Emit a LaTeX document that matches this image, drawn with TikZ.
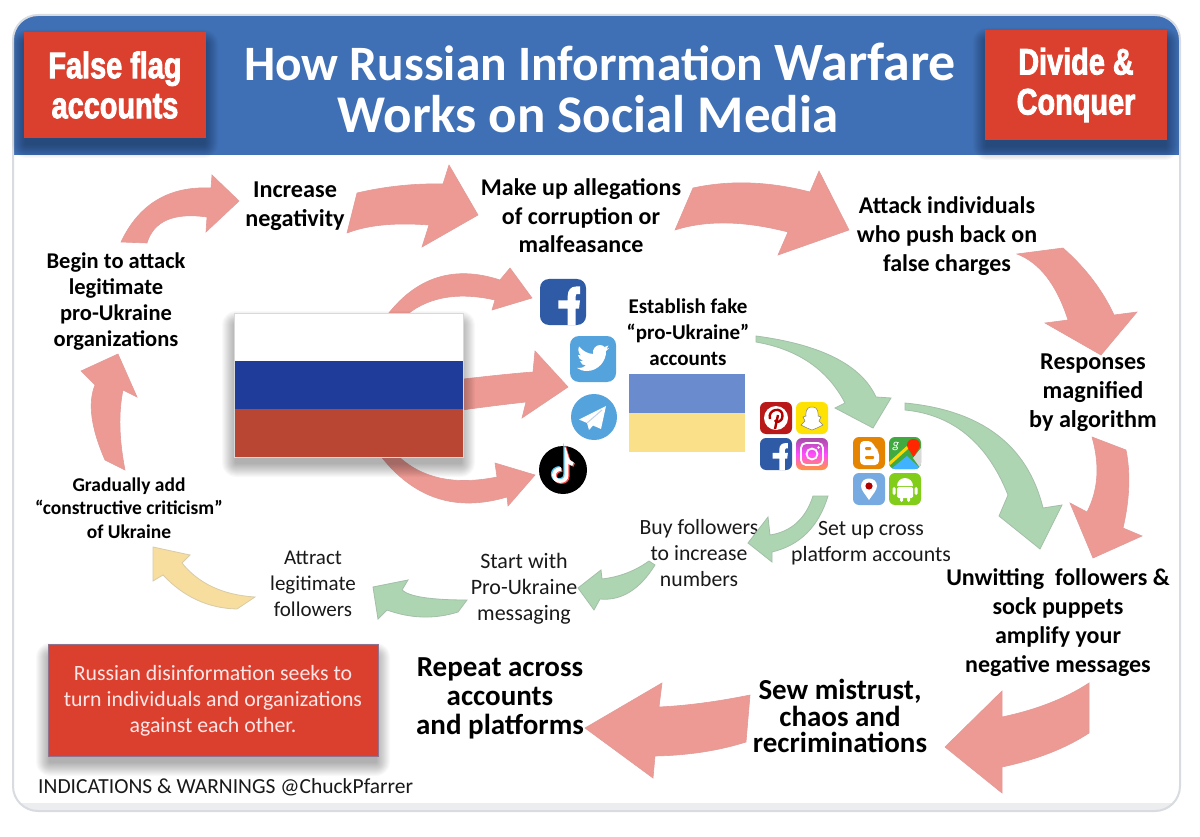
\documentclass[tikz,border=0pt]{standalone}
\usepackage{fontspec}
\setmainfont{Carlito}
\newfontfamily\impactish[FakeStretch=0.78,FakeBold=2.2]{Liberation Sans Bold}
\usetikzlibrary{positioning,calc}

\definecolor{headblue}{HTML}{3F6FB4}
\definecolor{boxred}{HTML}{DB402E}
\definecolor{pinkfill}{HTML}{EC9A93}
\definecolor{pinkedge}{HTML}{E39A98}
\definecolor{greenfill}{HTML}{AED5B1}
\definecolor{greenedge}{HTML}{A3BFA9}
\definecolor{yellowfill}{HTML}{F7DE9E}
\definecolor{yellowedge}{HTML}{D8CBA8}
\definecolor{panelgrey}{HTML}{D8DBDF}
\definecolor{ukblue}{HTML}{6A8CCF}
\definecolor{ukyellow}{HTML}{FAE088}
\definecolor{rublue}{HTML}{1F3C9A}
\definecolor{rured}{HTML}{B84632}
\definecolor{fbblue}{HTML}{2F5BA6}
\definecolor{twblue}{HTML}{54A3DD}

\tikzset{
	blabel/.style n args={2}{align=center,inner sep=0pt,text=black,font=\fontsize{#1}{#2}\selectfont\bfseries},
	rlabel/.style n args={2}{align=center,inner sep=0pt,text=black!90,font=\fontsize{#1}{#2}\selectfont},
	titleline/.style={inner sep=0pt,anchor=base,text=white,font=\fontsize{#1}{53}\selectfont\bfseries},
	redbox/.style={fill=boxred,inner sep=0pt,align=center,text=white},
	band/.style={inner sep=0pt,outer sep=0pt,minimum width=#1},
	tile/.style={inner sep=0pt,outer sep=0pt,minimum size=32pt,rounded corners=6pt},
	redarrow/.style={fill=pinkfill,draw=pinkedge,line width=0.6pt},
	greenarrow/.style={fill=greenfill,draw=greenedge,line width=0.8pt},
	yellowarrow/.style={fill=yellowfill,draw=yellowedge,line width=0.8pt},
	fglyph/.pic={
		\fill[white] (4.7,23) -- (4.7,6.7) -- (-4.7,6.7) -- (-4.7,-1.7) -- (4.7,-1.7) -- (4.7,-6)
			.. controls (4.7,-12) and (8,-15.5) .. (13,-15.5) -- (17,-15.5) -- (17,-8) -- (14,-8)
			.. controls (12.7,-8) and (12.7,-7) .. (12.7,-5.5) -- (12.7,-1.7) -- (17,-1.7)
			-- (16,6.7) -- (12.7,6.7) -- (12.7,23) -- cycle;
	},
	bird/.pic={
		\fill[white] (16,-11) -- (13,-8) .. controls (13.5,2) and (5,12) .. (-6,12)
			.. controls (-10,12) and (-13,11) .. (-16,9) .. controls (-12,9) and (-9,8.5) .. (-7,6.5)
			.. controls (-10,6.5) and (-12,5) .. (-13,2) -- (-10,2) .. controls (-13,1) and (-15,-2) .. (-15,-4)
			-- (-12,-3.5) .. controls (-15,-6) and (-15,-10) .. (-14,-12.5)
			.. controls (-10,-8) and (-6,-5.5) .. (0,-5) .. controls (-1,-10) and (3,-14) .. (7,-14)
			.. controls (9,-14) and (10.5,-13) .. (11.5,-12) -- (15.5,-13.5) -- (13.5,-10) -- cycle;
	},
	plane/.pic={
		\fill[white] (12,-11) -- (-15,2.5) -- (-7,6) -- (-5,13) -- (-1,8.5) -- (7,12) -- cycle;
		\draw[ukblue!40,line width=1pt] (-7,6) -- (8,-7);
	},
	note/.pic={
		\draw[pic actions,line width=3.8pt] (10,-6) .. controls (6.5,-7) and (4,-9.5) .. (3.5,-13) -- (3.5,5)
			.. controls (3.5,9) and (1,11) .. (-3,11) .. controls (-6.5,11) and (-9,8.5) .. (-9,5)
			.. controls (-9,1.5) and (-6,-1) .. (-2,-1);
	},
}

%% soft shadow under a box: left, top, right, bottom
\newcommand{\softshadow}[4]{%
	\foreach \g in {1,...,14}
		\fill[black,opacity=0.022,rounded corners=\g pt] (#1-\g+2,#2-\g+12) rectangle (#3+\g-2,#4+\g+6);
}
%% block arrow: style, name, bend, neck, barb, barb, neck, bend
\newcommand{\sweeparrow}[8]{%
	\filldraw[#1] (#2t) .. controls ($(#2t)!.667!(#3)$) and ($(#4)!.667!(#3)$) .. (#4) -- (#5) -- (#2h) -- (#6) -- (#7)
		.. controls ($(#7)!.667!(#8)$) and ($(#2u)!.667!(#8)$) .. (#2u) -- cycle;
}

\begin{document}
\begin{tikzpicture}[x=1pt,y=-1pt]
	\path[use as bounding box,fill=white] (0,0) rectangle (1200,837);
	%% panel and header
	\begin{scope}
		\clip[rounded corners=25pt] (13,15) rectangle (1180,811);
		\fill[headblue] (13,15) rectangle (1180,155);
		\fill[panelgrey!50] (13,803) rectangle (1180,811);
	\end{scope}
	\draw[panelgrey,line width=2pt,rounded corners=25pt] (13,15) rectangle (1180,811);
	\softshadow{24}{32}{206}{138}
	\softshadow{985}{30}{1167}{140}
	\node[redbox,minimum width=182pt,minimum height=106pt,font=\impactish\fontsize{37}{40}\selectfont] (ff) at (115,85) {False flag\\accounts};
	\node[redbox,minimum width=182pt,minimum height=110pt,font=\impactish\fontsize{37}{40}\selectfont] (dc) at (1076,85) {Divide \&\\Conquer};
	\node[titleline=49.5] (title) at (600,81) {How Russian Information {\fontsize{54}{53}\selectfont Warfare}};
	\node[titleline=53] (titleb) at (588,133) {Works on Social Media};

	%% outer loop labels
	\node[blabel={24.2}{28.5}] (neg) at (295,206) {Increase\\negativity};
	\node[blabel={24}{28.5}] (make) at (581,216) {Make up allegations\\of corruption or\\malfeasance};
	\node[blabel={24}{29}] (att) at (947,236) {Attack individuals\\who push back on\\false charges};
	\node[blabel={24.2}{29}] (resp) at (1093,393) {Responses\\magnified\\by algorithm};
	\node[blabel={24}{29}] (unw) at (1058,623) {Unwitting~ followers \&\\sock puppets\\amplify your\\negative messages};
	\node[blabel={29}{26.5}] (sew) at (840,716) {Sew mistrust,\\chaos and\\recriminations};
	\node[blabel={29}{29}] (rep) at (500,698) {Repeat across\\accounts\\and platforms};
	\node[blabel={22.5}{26}] (begin) at (116,302) {Begin to attack\\legitimate\\pro-Ukraine\\organizations};
	\node[blabel={19.5}{23.5}] (grad) at (129,508) {Gradually add\\“constructive criticism”\\of Ukraine};
	%% inner labels
	\node[blabel={21}{26}] (est) at (688,332) {Establish fake\\“pro-Ukraine”\\accounts};
	\node[rlabel={21.7}{26}] (buy) at (699,553) {Buy followers\\to increase\\numbers};
	\node[rlabel={21.8}{26}] (setup) at (871,543) {Set up cross\\platform accounts};
	\node[rlabel={22}{26}] (start) at (524,589) {Start with\\Pro-Ukraine\\messaging};
	\node[rlabel={21}{26}] (attr) at (313,584) {Attract\\legitimate\\followers};

	%% arrow ends: t and u are the tail corners, h the tip
	\coordinate (a1t) at (121,242);
	\coordinate (a1u) at (147,243);
	\coordinate (a1h) at (239,201);
	\coordinate (a2t) at (357,193);
	\coordinate (a2u) at (347,233);
	\coordinate (a2h) at (478,215);
	\coordinate (a3t) at (693,188);
	\coordinate (a3u) at (675,230);
	\coordinate (a3h) at (849,230);
	\coordinate (a4t) at (1063,248);
	\coordinate (a4u) at (1017,254);
	\coordinate (a4h) at (1101,355);
	\coordinate (a5t) at (1126,450);
	\coordinate (a5u) at (1092,437);
	\coordinate (a5h) at (1093,558);
	\coordinate (a6t) at (1089,683);
	\coordinate (a6u) at (1089,733);
	\coordinate (a6h) at (945,747);
	\coordinate (a7t) at (750,695);
	\coordinate (a7u) at (746,742);
	\coordinate (a7h) at (585,728);
	\coordinate (a8t) at (105,460);
	\coordinate (a8u) at (125,470);
	\coordinate (a8h) at (118,354);
	\coordinate (b1t) at (385,318);
	\coordinate (b1u) at (403,318);
	\coordinate (b1h) at (532,298);
	\coordinate (b2t) at (455,380);
	\coordinate (b2u) at (455,411);
	\coordinate (b2h) at (568,387);
	\coordinate (b3t) at (397,455);
	\coordinate (b3u) at (380,455);
	\coordinate (b3h) at (535,475);
	\coordinate (g1t) at (756,336);
	\coordinate (g1u) at (756,342);
	\coordinate (g1h) at (873,428);
	\coordinate (g2t) at (905,403);
	\coordinate (g2u) at (905,410);
	\coordinate (g2h) at (1040,549);
	\coordinate (g3t) at (813,496);
	\coordinate (g3u) at (828,496);
	\coordinate (g3h) at (748,543);
	\coordinate (g4t) at (649,561);
	\coordinate (g4u) at (655,565);
	\coordinate (g4h) at (578,588);
	\coordinate (g5t) at (467,600);
	\coordinate (g5u) at (458,612);
	\coordinate (g5h) at (373,587);
	\coordinate (y1t) at (255,597);
	\coordinate (y1u) at (237,609);
	\coordinate (y1h) at (153,547);

	%% pink loop
	\sweeparrow{redarrow}{a1}{148,185}{211,188}{212,175}{206,232}{207,217}{157,210}
	\sweeparrow{redarrow}{a2}{400,183}{443,184}{449,165}{422,247}{429,225}{378,221}
	\sweeparrow{redarrow}{a3}{748,176}{810,192}{819,171}{778,255}{788,232}{722,215}
	\sweeparrow{redarrow}{a4}{1097,278}{1114,315}{1137,312}{1045,323}{1068,320}{1051,267}
	\sweeparrow{redarrow}{a5}{1133,485}{1123,528}{1142,536}{1070,503}{1087,512}{1104,479}
	\sweeparrow{redarrow}{a6}{1054,706}{1002,717}{1002,691}{1002,793}{1002,767}{1054,756}
	\sweeparrow{redarrow}{a7}{701,705}{659,707}{662,683}{653,778}{655,756}{705,755}
	\sweeparrow{redarrow}{a8}{84,412}{95,385}{81,371}{137,397}{123,390}{116,424}
	%% out of the Russian flag
	\sweeparrow{redarrow}{b1}{430,257}{500,280}{510,268}{492,310}{495,300}{437,287}
	\sweeparrow{redarrow}{b2}{506,374}{533,372}{535,351}{522,418}{526,402}{490,406}
	\sweeparrow{redarrow}{b3}{433,490}{497,477}{495,463}{508,506}{507,497}{430,520}
	%% green chain
	\sweeparrow{greenarrow}{g1}{854,349}{876,397}{891,398}{835,408}{845,403}{819,353}
	\sweeparrow{greenarrow}{g2}{1020,414}{1043,508}{1062,505}{999,516}{1008,495}{977,417}
	\sweeparrow{greenarrow}{g3}{802,530}{770,535}{768,517}{772,562}{772,552}{814,542}
	\sweeparrow{greenarrow}{g4}{628,576}{602,579}{601,570}{594,610}{600,599}{632,602}
	\sweeparrow{greenarrow}{g5}{413,600}{402,590}{408,580}{378,619}{387,610}{423,623}
	\sweeparrow{yellowarrow}{y1}{207,594}{182,563}{190,555}{153,581}{163,575}{194,608}

	%% Russian flag
	\softshadow{234}{313}{463}{457}
	\node[band=229pt,minimum height=48pt,fill=white] (ruw) at (348.5,337) {};
	\node[band=229pt,minimum height=48pt,fill=rublue,below=0pt of ruw] (rub) {};
	\node[band=229pt,minimum height=48pt,fill=rured,below=0pt of rub] (rur) {};
	\draw[black!15,line width=0.8pt] (ruw.north west) rectangle (rur.south east);
	%% Ukrainian flag
	\node[band=116pt,minimum height=39pt,fill=ukblue] (uab) at (687,393.5) {};
	\node[band=116pt,minimum height=39pt,fill=ukyellow,below=0pt of uab] (uay) {};

	%% large icons
	\node[tile,minimum size=46pt,rounded corners=9pt,fill=fbblue] (fb) at (563,302) {};
	\pic at (fb) {fglyph};
	\node[tile,minimum size=46pt,rounded corners=9pt,fill=twblue] (tw) at (593,359) {};
	\pic at (tw) {bird};
	\node[circle,inner sep=0pt,minimum size=46pt,fill=twblue] (tg) at (594,417) {};
	\pic at (tg) {plane};
	\node[circle,inner sep=0pt,minimum size=48pt,fill=black] (tt) at (563,470) {};
	\pic[draw=cyan!70,xshift=-1.2pt,yshift=1pt] at (tt) {note};
	\pic[draw=red!70,xshift=1.2pt,yshift=-1pt] at (tt) {note};
	\pic[draw=white] at (tt) {note};

	%% first tile group
	\node[tile,fill=red!70!black!90] (pin) at (776,418) {};
	\node[tile,fill=yellow!85!orange,right=4pt of pin] (snap) {};
	\node[tile,fill=fbblue,below=4pt of pin] (fbs) {};
	\node[tile,top color=violet!70,bottom color=orange!80,middle color=magenta!70,below=4pt of snap] (ig) {};
	\fill[white] (pin) circle (12pt);
	\draw[red!70!black,line width=2.4pt] ($(pin)+(-1,11)$) -- ($(pin)+(2,-3)$);
	\draw[red!70!black,line width=2.4pt] ($(pin)+(-6,1)$) .. controls ($(pin)+(-9,-9)$) and ($(pin)+(7,-12)$) .. ($(pin)+(6.5,-2)$) .. controls ($(pin)+(6,5)$) and ($(pin)+(-1,5)$) .. ($(pin)+(-1,2)$);
	\fill[white,draw=black!50,line width=0.5pt] ($(snap)+(0,-11)$) .. controls ($(snap)+(7,-11)$) and ($(snap)+(6,-4)$) .. ($(snap)+(6,-2)$) -- ($(snap)+(9,-1)$) -- ($(snap)+(7,3)$) -- ($(snap)+(11,7)$) -- ($(snap)+(5,10)$) -- ($(snap)+(0,12)$) -- ($(snap)+(-5,10)$) -- ($(snap)+(-11,7)$) -- ($(snap)+(-7,3)$) -- ($(snap)+(-9,-1)$) -- ($(snap)+(-6,-2)$) .. controls ($(snap)+(-6,-4)$) and ($(snap)+(-7,-11)$) .. ($(snap)+(0,-11)$);
	\pic[scale=0.7] at (fbs) {fglyph};
	\draw[white,line width=1.8pt,rounded corners=5pt] ($(ig)+(-11,-11)$) rectangle ($(ig)+(11,11)$);
	\draw[white,line width=1.8pt] (ig) circle (5.5pt);
	\fill[white] ($(ig)+(6.5,-6.5)$) circle (1.3pt);

	%% second tile group
	\node[tile,fill=orange!85!yellow!90!black] (blg) at (869,453) {};
	\node[tile,fill=green!55!black!75,right=4pt of blg] (maps) {};
	\node[tile,fill=cyan!60!blue!55,below=4pt of blg] (peri) {};
	\node[tile,fill=green!60!black!55!yellow!90,below=4pt of maps] (droid) {};
	\fill[white,rounded corners=4pt] ($(blg)+(-9,-12)$) -- ($(blg)+(3,-12)$) -- ($(blg)+(6,-5)$) -- ($(blg)+(10,-2)$) -- ($(blg)+(10,12)$) -- ($(blg)+(-9,12)$) -- cycle;
	\fill[orange!85!yellow!90!black,rounded corners=1pt] ($(blg)+(-4,-6)$) rectangle ($(blg)+(2,-3)$);
	\fill[orange!85!yellow!90!black,rounded corners=1pt] ($(blg)+(-4,3)$) rectangle ($(blg)+(5,6)$);
	\begin{scope}
		\clip[rounded corners=6pt] ($(maps)+(-16,-16)$) rectangle ($(maps)+(16,16)$);
		\fill[blue!40!cyan!75] ($(maps)+(2,3)$) -- ($(maps)+(16,16)$) -- ($(maps)+(-14,16)$) -- cycle;
		\fill[black!15] ($(maps)+(8,5)$) -- ($(maps)+(16,-5)$) -- ($(maps)+(16,16)$) -- cycle;
		\draw[yellow!75!orange,line width=3pt] ($(maps)+(-16,11)$) -- ($(maps)+(3,-6)$);
	\end{scope}
	\fill[red!70!orange] ($(maps)+(8.5,4)$) .. controls ($(maps)+(5,-2)$) and ($(maps)+(2,-5)$) .. ($(maps)+(2,-8)$) .. controls ($(maps)+(2,-16)$) and ($(maps)+(15,-16)$) .. ($(maps)+(15,-8)$) .. controls ($(maps)+(15,-5)$) and ($(maps)+(12,-2)$) .. ($(maps)+(8.5,4)$);
	\node[inner sep=0pt,text=white,font=\fontsize{13}{13}\selectfont\itshape] (mapg) at ($(maps)+(-9,-7)$) {g};
	\fill[white] ($(peri)+(0,11)$) .. controls ($(peri)+(-4,5)$) and ($(peri)+(-8,1)$) .. ($(peri)+(-8,-3)$) .. controls ($(peri)+(-8,-13)$) and ($(peri)+(8,-13)$) .. ($(peri)+(8,-3)$) .. controls ($(peri)+(8,1)$) and ($(peri)+(4,5)$) .. ($(peri)+(0,11)$);
	\fill[red!70!black] ($(peri)+(0,-3)$) circle (3.6pt);
	\fill[white] ($(droid)+(-8,-3)$) arc[start angle=180,end angle=0,radius=8pt] -- cycle;
	\fill[white,rounded corners=1.5pt] ($(droid)+(-8,-2)$) rectangle ($(droid)+(8,9)$);
	\fill[white,rounded corners=1.5pt] ($(droid)+(-12.5,-2)$) rectangle ($(droid)+(-9.5,6)$);
	\fill[white,rounded corners=1.5pt] ($(droid)+(9.5,-2)$) rectangle ($(droid)+(12.5,6)$);
	\fill[white,rounded corners=1.5pt] ($(droid)+(-5,8)$) rectangle ($(droid)+(-2,13)$);
	\fill[white,rounded corners=1.5pt] ($(droid)+(2,8)$) rectangle ($(droid)+(5,13)$);

	%% note box and credit
	\softshadow{48}{645}{378}{756}
	\node[redbox,draw=violet!40!black!55,line width=0.6pt,minimum width=330pt,minimum height=112pt,text=white!90!red,font=\fontsize{21.8}{26}\selectfont] (note) at (213,700.5) {Russian disinformation seeks to\\turn individuals and organizations\\against each other.};
	\node[rlabel={21.5}{22},anchor=west] (credit) at (38,787) {INDICATIONS \& WARNINGS @ChuckPfarrer};
\end{tikzpicture}
\end{document}
